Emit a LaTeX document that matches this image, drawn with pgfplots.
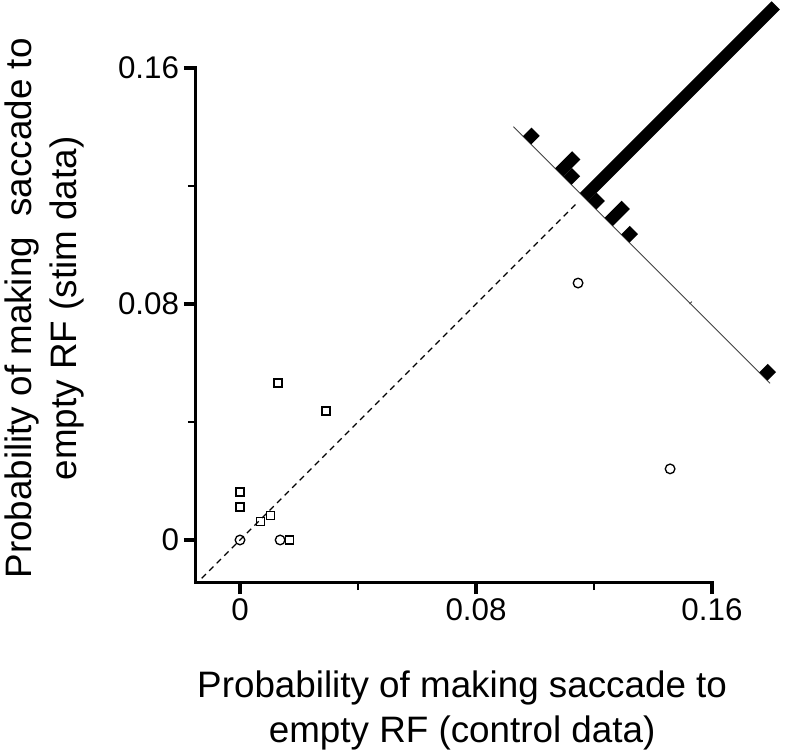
\documentclass[border=0pt]{standalone}
\usepackage{pgfplots}
\pgfplotsset{compat=1.18}
\usepackage{fontspec}
\setmainfont{Liberation Sans}
\begin{document}
\begin{tikzpicture}
\begin{axis}[
  x=2212.5pt, y=2212.5pt,
  xmin=-0.015, xmax=0.16, ymin=-0.0143, ymax=0.16,
  axis x line*=bottom, axis y line*=left,
  axis line style={line width=2.4pt, line cap=rect},
  clip=false,
  xtick={0,0.08,0.16}, xticklabels={0,0.08,0.16},
  ytick={0,0.08,0.16}, yticklabels={0,0.08,0.16},
  minor xtick={0.04,0.12}, minor ytick={0.04,0.12},
  tick align=outside,
  major tick length=9pt, minor tick length=6pt,
  every major tick/.style={line width=2.4pt, black},
  every minor tick/.style={line width=1.6pt, black},
  tick label style={font=\fontsize{23.5}{28}\selectfont},
  /pgf/number format/assume math mode=true,
]
% dashed identity line
\addplot[black, line width=1pt, dash pattern=on 4.5pt off 3.5pt] coordinates {(-0.013,-0.013) (0.1147,0.1147)};
% histogram axis (anti-diagonal)
\addplot[black!75, line width=0.7pt] coordinates {(0.0927,0.1401) (0.1797,0.0531)};
\addplot[black!75, line width=0.6pt] coordinates {(0.1524,0.0800) (0.1532,0.0808)};
% histogram bars
\addplot[fill=black, draw=none] coordinates {(0.0959,0.1369) (0.0987,0.1341) (0.1016,0.1370) (0.0988,0.1398)} -- cycle;
\addplot[fill=black, draw=none] coordinates {(0.1068,0.1260) (0.1096,0.1232) (0.1154,0.1290) (0.1126,0.1318)} -- cycle;
\addplot[fill=black, draw=none] coordinates {(0.1096,0.1232) (0.1124,0.1204) (0.1153,0.1233) (0.1125,0.1261)} -- cycle;
\addplot[fill=black, draw=none] coordinates {(0.1152,0.1176) (0.1180,0.1148) (0.1830,0.1798) (0.1802,0.1826)} -- cycle;
\addplot[fill=black, draw=none] coordinates {(0.1180,0.1148) (0.1208,0.1120) (0.1237,0.1149) (0.1209,0.1177)} -- cycle;
\addplot[fill=black, draw=none] coordinates {(0.1236,0.1092) (0.1264,0.1064) (0.1322,0.1122) (0.1294,0.1150)} -- cycle;
\addplot[fill=black, draw=none] coordinates {(0.1292,0.1036) (0.1320,0.1008) (0.1349,0.1037) (0.1321,0.1065)} -- cycle;
\addplot[fill=black, draw=none] coordinates {(0.1760,0.0568) (0.1788,0.0540) (0.1817,0.0569) (0.1789,0.0597)} -- cycle;
% squares
\addplot[only marks, mark=square, mark size=3pt, mark options={line width=1pt, fill=white}] coordinates {
(0.0129,0.0532) (0.0292,0.0437) (0,0.0163) (0,0.0112) (0.0070,0.0062) (0.0104,0.0082) (0.0167,0)};
% circles
\addplot[only marks, mark=o, mark size=3.6pt, mark options={line width=1pt}] coordinates {
(0,0) (0.0136,0) (0.1146,0.0871) (0.1458,0.0241)};
% labels
\node[anchor=north, align=center, inner sep=0pt, font=\fontsize{27.6}{33.75}\selectfont] at (axis cs:0.0753,-0.0444) {Probability of making saccade to\\empty RF (control data)};
\node[rotate=90, anchor=north, align=center, inner sep=0pt, font=\fontsize{27.6}{33.75}\selectfont] at (axis cs:-0.0797,0.0785) {Probability of making\ \ saccade to\\empty RF (stim data)};
\coordinate (bbl) at (axis cs:-0.08136,-0.07288);
\coordinate (btr) at (axis cs:0.18475,0.18305);
\end{axis}
\pgfresetboundingbox
\path[use as bounding box] (bbl) rectangle (btr);
\end{tikzpicture}
\end{document}
